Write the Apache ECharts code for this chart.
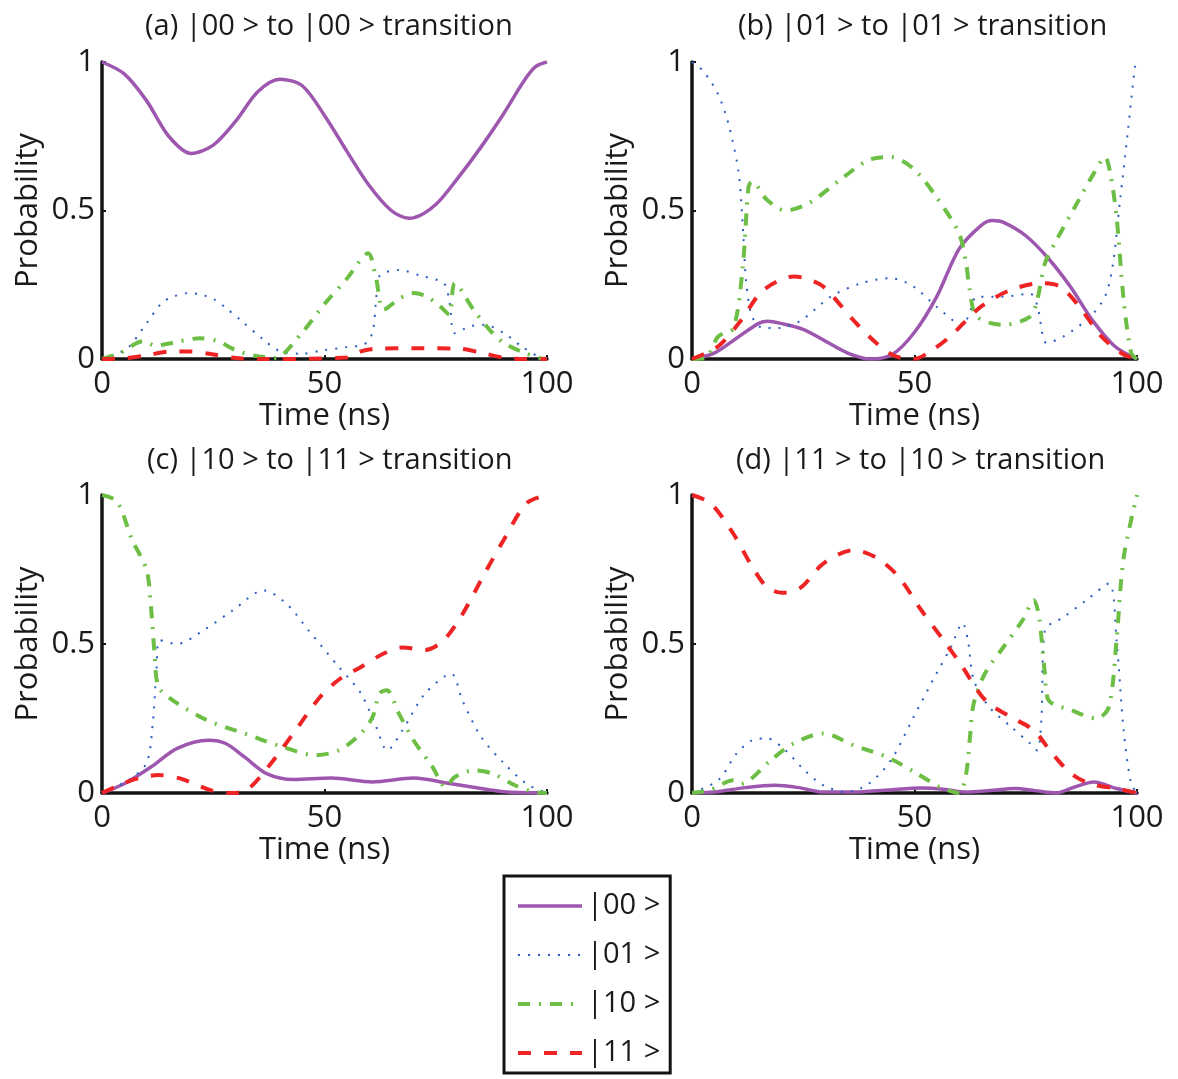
<!DOCTYPE html>
<html><head><meta charset="utf-8">
<script src="https://cdn.jsdelivr.net/npm/echarts@6/dist/echarts.min.js"></script>
<style>html,body{margin:0;padding:0;background:#fff}#c{width:1178px;height:1079px}</style>
</head><body><div id="c"></div><script>
const stateNames = ['|00 >', '|01 >', '|10 >', '|11 >'];
const panelTitles = ['(a) |00 > to |00 > transition', '(b) |01 > to |01 > transition', '(c) |10 > to |11 > transition', '(d) |11 > to |10 > transition'];
const xTicks = [0, 50, 100];
const yTicks = [0, 0.5, 1];

// panel (a)
const a00 = [[0,1],[5,0.96],[10,0.87],[15,0.75],[20,0.692],[25,0.72],[30,0.8],[35,0.9],[40,0.942],[45,0.92],[50,0.82],[55,0.70],[60,0.585],[65,0.50],[69,0.474],[70,0.475],[75,0.52],[80,0.61],[85,0.71],[90,0.82],[95,0.94],[97.5,0.985],[100,1]];
const a01 = [[0,0],[3,0.015],[6,0.04],[10,0.12],[13.5,0.19],[16,0.21],[19.5,0.222],[22,0.218],[25.3,0.2],[28,0.17],[31.2,0.13],[36.3,0.065],[40,0.026],[44.7,0.018],[50,0.03],[55,0.04],[59,0.05],[60.8,0.09],[61.6,0.2],[62.4,0.28],[66.7,0.30],[71.7,0.28],[76.8,0.255],[78,0.2],[79.3,0.087],[82.7,0.11],[86,0.115],[90.3,0.087],[94.5,0.04],[98.7,0.003],[100,0]];
const a10 = [[0,0],[4,0.02],[9.3,0.06],[12,0.045],[16,0.055],[22,0.07],[26,0.06],[30,0.03],[34,0.012],[38.8,0.003],[45,0.09],[50,0.185],[55,0.27],[59.8,0.356],[61.6,0.27],[63.3,0.166],[67,0.205],[70,0.222],[73,0.21],[76,0.177],[78,0.15],[79.3,0.255],[83.5,0.166],[87,0.1],[90.3,0.054],[95,0.02],[98.7,0.002],[100,0]];
const a11 = [[0,0],[5,0.002],[10,0.012],[15,0.025],[20,0.025],[25,0.015],[30,0.003],[35,0],[55,0.005],[58,0.025],[62,0.035],[70,0.036],[80,0.035],[85,0.022],[90,0.005],[95,0],[100,0]];
// panel (b)
const b00 = [[0,0],[5,0.02],[10,0.07],[15,0.12],[17,0.127],[20,0.12],[25,0.1],[30,0.06],[35,0.02],[40,0],[45,0.015],[50,0.09],[55,0.21],[60,0.37],[65,0.45],[67.5,0.466],[70,0.46],[75,0.415],[80,0.34],[85,0.244],[90,0.13],[95,0.043],[100,0]];
const b01 = [[0,1],[2.5,0.97],[5.9,0.89],[8.4,0.78],[10.5,0.625],[11.4,0.45],[12.2,0.255],[13.5,0.143],[16,0.104],[19.4,0.104],[24.5,0.13],[31.2,0.21],[38,0.255],[44.7,0.272],[49.8,0.244],[54.9,0.177],[60.8,0.115],[62.5,0.16],[64,0.21],[70,0.21],[76,0.22],[77.6,0.18],[79.7,0.054],[83.5,0.076],[89.5,0.143],[92.8,0.21],[94.5,0.31],[96.2,0.535],[97.9,0.76],[99.6,0.99],[100,1]];
const b10 = [[0,0],[3,0.003],[5.9,0.076],[9.3,0.104],[11.4,0.31],[12.7,0.58],[13.5,0.597],[16.9,0.535],[21,0.5],[26.2,0.524],[33,0.6],[39.7,0.67],[44.7,0.68],[49.8,0.64],[54.9,0.546],[60,0.423],[61.6,0.322],[62.4,0.233],[64,0.143],[70,0.115],[76,0.143],[77.6,0.2],[79.3,0.322],[81.9,0.4],[86.9,0.535],[90.3,0.625],[92.8,0.68],[94,0.625],[95.4,0.48],[97,0.2],[98.7,0.02],[100,0]];
const b11 = [[0,0],[5.9,0.043],[11,0.13],[15.2,0.22],[19,0.26],[22.8,0.278],[25.3,0.272],[29.5,0.244],[36.3,0.13],[41.4,0.054],[45.6,0.01],[49.8,0],[53,0.02],[58,0.076],[65,0.177],[71.7,0.233],[78.5,0.255],[82.7,0.244],[87,0.177],[92,0.076],[97,0.015],[100,0]];
// panel (c)
const c00 = [[0,0],[5,0.031],[11,0.087],[16.9,0.15],[24,0.177],[27.8,0.166],[32,0.121],[37,0.065],[43,0.045],[51.5,0.05],[60.8,0.037],[70,0.05],[78.5,0.031],[87,0.011],[91,0.003],[100,0]];
const c01 = [[0,0],[5.9,0.043],[10,0.1],[11.4,0.233],[12.2,0.4],[13,0.513],[16.9,0.5],[22.8,0.546],[29.5,0.614],[36.3,0.68],[41.4,0.636],[46.4,0.546],[53.2,0.423],[58.2,0.334],[61.6,0.222],[64.1,0.143],[67.5,0.21],[72.6,0.334],[78.5,0.4],[81,0.31],[85.2,0.188],[90.3,0.1],[95.4,0.031],[100,0]];
const c10 = [[0,1],[3.4,0.978],[6.75,0.85],[10,0.75],[11,0.625],[11.8,0.47],[12.7,0.356],[16,0.31],[23.6,0.244],[32,0.2],[40.5,0.155],[48,0.127],[53.2,0.143],[58.2,0.2],[60.8,0.255],[62.4,0.334],[64,0.345],[66.7,0.267],[70,0.177],[74.3,0.087],[77.2,0.02],[79.3,0.054],[83.5,0.076],[87.8,0.065],[92.8,0.026],[97,0.003],[100,0]];
const c11 = [[0,0],[6.75,0.043],[12.7,0.06],[17.7,0.048],[24.5,0.009],[29.5,0],[33,0.015],[38,0.1],[43,0.2],[49,0.322],[53.2,0.38],[58.2,0.423],[63.3,0.468],[67.5,0.488],[72.6,0.48],[76.8,0.513],[81,0.6],[86,0.737],[90.3,0.85],[95.4,0.972],[100,1]];
// panel (d)
const d00 = [[0,0],[5,0.003],[12,0.018],[18.6,0.026],[24,0.018],[29.5,0.003],[36.3,0.003],[44,0.01],[51.5,0.017],[57,0.012],[61.6,0.003],[67,0.008],[72.6,0.015],[77,0.008],[81.9,0],[86,0.02],[90.3,0.037],[95.4,0.015],[100,0]];
const d01 = [[0,0],[5.9,0.043],[10,0.132],[13.5,0.177],[16.9,0.183],[21,0.143],[25.3,0.076],[29.5,0.026],[34.6,0.003],[39.7,0.031],[44.7,0.11],[49.8,0.255],[54.9,0.4],[58.2,0.49],[60.8,0.57],[62,0.513],[63.3,0.38],[66.7,0.29],[71.7,0.222],[76,0.166],[77.6,0.143],[78.5,0.244],[79.3,0.546],[83.5,0.59],[88.6,0.647],[93.7,0.703],[95.4,0.513],[97,0.21],[98.7,0.03],[100,0]];
const d10 = [[0,0],[4,0.01],[9.3,0.043],[11,0.031],[17.7,0.11],[22.8,0.166],[29.5,0.2],[36.3,0.16],[43.9,0.12],[50.6,0.065],[55.7,0.02],[60,0],[61.6,0.065],[62.4,0.177],[63.3,0.3],[65.8,0.4],[70,0.49],[74.3,0.58],[76.8,0.647],[78,0.59],[79.3,0.4],[80.2,0.31],[85.2,0.278],[91,0.25],[93.7,0.29],[95.4,0.513],[97,0.79],[100,1]];
const d11 = [[0,1],[4.2,0.972],[9.3,0.87],[13.5,0.76],[16.9,0.69],[20.3,0.672],[24.5,0.69],[29.5,0.77],[36.3,0.815],[41.4,0.79],[46.4,0.726],[51.5,0.614],[56.5,0.513],[60.8,0.423],[64.1,0.345],[66.7,0.3],[71.7,0.255],[76.8,0.21],[81,0.132],[85.2,0.065],[89.5,0.031],[95.4,0.015],[100,0]];

const panels = [[a00,a01,a10,a11],[b00,b01,b10,b11],[c00,c01,c10,c11],[d00,d01,d10,d11]];

const FONT = 'Open Sans';
const FS = 31;
const FT = 29;
const styles = [
  {color:'#9E57AE', width:3.5, type:'solid'},
  {color:'#2A5DBE', width:2, type:[2,8]},
  {color:'#6DBE45', width:4, type:[12,9,2,9]},
  {color:'#EE2424', width:4, type:[13,13]}
];
const gridPos = [
  {left:102, top:62, width:445, height:297},
  {left:692, top:62, width:445, height:297},
  {left:102, top:495, width:445, height:298},
  {left:692, top:495, width:445, height:298}
];
const titlePos = [{left:140, top:7},{left:733, top:7},{left:142, top:441},{left:731, top:441}];

const chart = echarts.init(document.getElementById('c'));
const axisLine = {show:true, onZero:false, lineStyle:{color:'#141414', width:3.5}};
const axisTick = {show:true, inside:true, length:4, lineStyle:{color:'#141414', width:2}};
const option = {
  backgroundColor:'#fff',
  animation:false,
  title: panelTitles.map((t,i)=>({text:t, left:titlePos[i].left, top:titlePos[i].top,
     textStyle:{fontFamily:FONT, fontSize:FT, fontWeight:'normal', color:'#1a1a1a'}})),
  grid: gridPos,
  xAxis: gridPos.map((g,i)=>({type:'value', gridIndex:i, min:xTicks[0], max:xTicks[2], interval:xTicks[1]-xTicks[0],
     name:'Time (ns)', nameLocation:'middle', nameGap:41,
     nameTextStyle:{fontFamily:FONT, fontSize:FS, color:'#1a1a1a'},
     axisLine, axisTick, splitLine:{show:false},
     axisLabel:{fontFamily:FONT, fontSize:FS, color:'#1a1a1a', margin:10}})),
  yAxis: gridPos.map((g,i)=>({type:'value', gridIndex:i, min:yTicks[0], max:yTicks[2], interval:yTicks[1]-yTicks[0],
     name:'Probability', nameLocation:'middle', nameGap:58,
     nameTextStyle:{fontFamily:FONT, fontSize:FS, color:'#1a1a1a'},
     axisLine, axisTick, splitLine:{show:false},
     axisLabel:{fontFamily:FONT, fontSize:FS, color:'#1a1a1a', margin:7}})),
  legend: {
    data: stateNames.map((n,i)=>({name:n, lineStyle:{width:styles[i].width, type:styles[i].type, color:styles[i].color}})),
    orient:'vertical', left:504, top:876,
    padding:[13,10,3,12], itemGap:15, itemWidth:64, itemHeight:14,
    borderColor:'#141414', borderWidth:3, backgroundColor:'#fff',
    itemStyle:{opacity:0},
    textStyle:{fontFamily:FONT, fontSize:FT, color:'#1a1a1a', lineHeight:34}
  },
  series: []
};
panels.forEach((arr,pi)=>{
  arr.forEach((d,si)=>{
    option.series.push({
      type:'line', name:stateNames[si], xAxisIndex:pi, yAxisIndex:pi, data:d,
      showSymbol:false, symbol:'none', smooth:0.3, clip:false,
      lineStyle:{color:styles[si].color, width:styles[si].width, type:styles[si].type},
      itemStyle:{color:styles[si].color}, z: 2 + si
    });
  });
});
chart.setOption(option);
</script></body></html>
